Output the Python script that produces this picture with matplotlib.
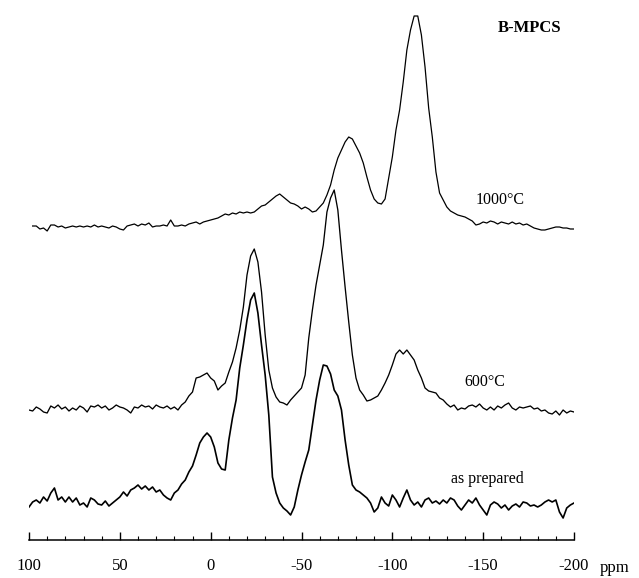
#!/usr/bin/env python3

import numpy as np
import matplotlib
matplotlib.use("Agg")
import matplotlib.pyplot as plt
from matplotlib import rcParams
from matplotlib.ticker import MultipleLocator

rcParams['font.family'] = 'serif'
rcParams['font.serif'] = ['Liberation Serif', 'DejaVu Serif']
rcParams['lines.linewidth'] = 1.0

# chemical shift grid (ppm), 100 down to -200 in 2 ppm steps
ppm = np.arange(100, -201, -2)

# 29Si intensities (arbitrary units, relative to baseline)
spec_1000 = [
    np.nan, 1, 1, -2, -1, -4, 2, 2, 0, 1,
    -1, 0, 1, 0, 1, 0, 1, 0, 2, 0,
    1, 0, -1, 1, 0, -2, -3, 1, 2, 3,
    1, 3, 2, 4, 0, 1, 1, 2, 1, 7,
    1, 1, 2, 1, 3, 4, 5, 3, 5, 6,
    7, 8, 9, 11, 13, 12, 14, 13, 15, 14,
    15, 14, 15, 18, 21, 22, 25, 28, 31, 33,
    30, 27, 24, 23, 21, 18, 20, 18, 15, 16,
    20, 24, 32, 42, 57, 69, 77, 85, 90, 88,
    81, 74, 64, 50, 37, 28, 24, 23, 28, 49,
    70, 97, 117, 145, 177, 197, 211, 211, 192, 160,
    119, 90, 55, 34, 27, 20, 16, 14, 12, 11,
    10, 8, 6, 2, 3, 5, 4, 6, 5, 3,
    5, 4, 3, 5, 3, 4, 2, 3, 1, -1,
    -2, -3, -3, -2, -1, 0, 0, -1, -1, -2,
    -2,
]

spec_600 = [
    -2, -3, 1, -1, -4, -5, 2, 0, 3, -1,
    1, -3, 0, -2, 2, 0, -4, 2, 1, 3,
    0, 2, -2, 0, 3, 1, 0, -2, -5, 1,
    0, 3, 1, 2, -1, 3, 1, 0, 2, -1,
    1, -2, 3, 6, 12, 16, 30, 31, 33, 35,
    30, 27, 18, 22, 25, 36, 46, 60, 78, 101,
    133, 152, 159, 146, 116, 73, 38, 20, 11, 6,
    5, 3, 8, 12, 16, 20, 33, 70, 98, 123,
    143, 163, 196, 210, 218, 198, 158, 121, 86, 53,
    30, 18, 13, 7, 8, 10, 12, 18, 25, 33,
    43, 54, 58, 54, 58, 53, 48, 38, 30, 20,
    17, 16, 15, 10, 8, 4, 1, 3, -2, 0,
    -1, 2, 3, 1, 4, 0, -2, 1, -2, 2,
    0, 3, 5, 0, -2, 1, 0, 1, 2, -1,
    0, -3, -2, -5, -6, -3, -7, -2, -5, -3,
    -4,
]

spec_prep = [
    -5, 0, 2, -1, 5, 1, 9, 14, 2, 5,
    0, 5, 0, 4, -3, -1, -5, 4, 2, -2,
    -3, 1, -4, -1, 2, 5, 10, 6, 12, 14,
    17, 13, 16, 12, 15, 10, 12, 7, 4, 2,
    9, 12, 18, 22, 30, 36, 47, 59, 65, 69,
    65, 55, 39, 33, 32, 62, 84, 102, 134, 157,
    182, 202, 209, 189, 157, 127, 87, 25, 9, -1,
    -6, -9, -13, -5, 12, 27, 40, 52, 77, 102,
    122, 137, 136, 128, 112, 106, 92, 62, 37, 17,
    12, 10, 7, 4, -1, -10, -6, 5, -1, -4,
    7, 2, -5, 4, 12, 2, -3, 0, -5, 2,
    4, -1, 1, -2, 2, -1, 4, 2, -4, -8,
    -3, 2, -1, 4, -3, -8, -13, -3, 0, -2,
    -6, -3, -8, -4, -2, -5, 0, -1, -4, -3,
    -5, -3, 0, 2, 0, 2, -10, -16, -6, -3,
    -1,
]

labels = ["1000\u00b0C", "600\u00b0C", "as prepared"]
title = "B-MPCS"

# stacking offsets for the three spectra
offsets = [313, 132, 38]
widths = [0.9, 0.95, 1.2]
label_pos = [(0.782, 0.654), (0.759, 0.339), (0.762, 0.171)]

fig = plt.figure(figsize=(6.39, 5.78), dpi=100)
ax = fig.add_axes([29 / 639, 38 / 578, 545 / 639, 540 / 578])

for spec, off, lw in zip([spec_1000, spec_600, spec_prep], offsets, widths):
    ax.plot(ppm, np.array(spec, dtype=float) + off, color='black', lw=lw)

ax.set_xlim(100, -200)
ax.set_ylim(0, 540)

for side in ['top', 'left', 'right']:
    ax.spines[side].set_visible(False)
ax.spines['bottom'].set_linewidth(1.1)
ax.set_yticks([])
ax.xaxis.set_major_locator(MultipleLocator(50))
ax.xaxis.set_minor_locator(MultipleLocator(10))
ax.tick_params(axis='x', which='major', direction='in', length=6, width=1.0,
               pad=13, labelsize=12)
ax.tick_params(axis='x', which='minor', direction='in', length=3, width=0.8)
ax.set_xticklabels(["%d" % t for t in ax.get_xticks()])
ax.set_facecolor('none')

for lab, (tx, ty) in zip(labels, label_pos):
    fig.text(tx, ty, lab, fontsize=11.5, ha='center', va='center')
fig.text(0.829, 0.952, title, fontsize=12, fontweight='bold', ha='center', va='center')
fig.text(0.962, 0.0165, "ppm", fontsize=12, ha='center', va='center')

plt.savefig("out.png", dpi=100)
